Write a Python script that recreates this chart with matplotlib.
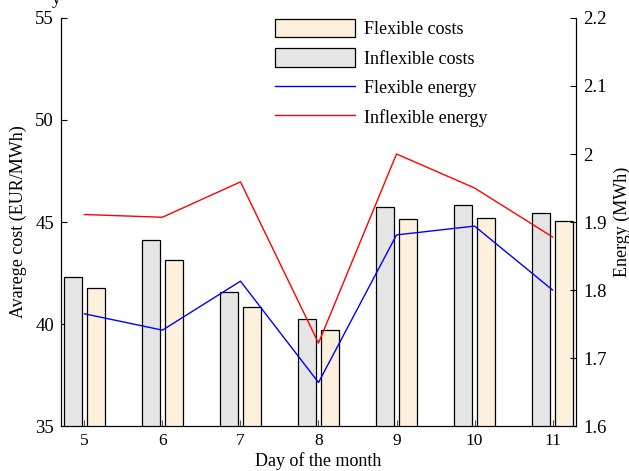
import numpy as np
import matplotlib
matplotlib.use("Agg")
from matplotlib import pyplot as plt

plt.rcParams['font.family'] = ['Liberation Serif', 'DejaVu Serif']
plt.rcParams['font.size'] = 13

# data
days = [5, 6, 7, 8, 9, 10, 11]
inflexible_costs = [42.3, 44.1, 41.55, 40.25, 45.72, 45.82, 45.43]
flexible_costs = [41.75, 43.14, 40.82, 39.69, 45.13, 45.18, 45.06]
flexible_energy = [1.765, 1.741, 1.813, 1.664, 1.881, 1.894, 1.800]
inflexible_energy = [1.911, 1.907, 1.959, 1.722, 2.000, 1.950, 1.878]

x = np.array(days, dtype=float)

fig = plt.figure(figsize=(6.29, 4.71), dpi=100)
ax = fig.add_axes([0.097, 0.0955, 0.8187, 0.8663])

w = 0.23
b_in = ax.bar(x - 0.145, inflexible_costs, width=w, color='#e5e5e5',
              edgecolor='black', linewidth=0.9, label='Inflexible costs', zorder=2)
b_fl = ax.bar(x + 0.145, flexible_costs, width=w, color='#fdf0dc',
              edgecolor='black', linewidth=0.9, label='Flexible costs', zorder=2)

ax.set_xlim(4.7, 11.3)
ax.set_ylim(35, 55)
ax.set_yticks([35, 40, 45, 50, 55])
ax.set_xticks(days)
ax.set_xlabel('Day of the month', labelpad=2)
ax.set_ylabel('Avarege cost (EUR/MWh)', labelpad=6)
ax.spines['top'].set_visible(False)
ax.tick_params(direction='in', length=4, width=0.8, pad=5)
ax.tick_params(axis='y', labelsize=13.5)
ax.tick_params(axis='x', colors='#555555', labelcolor='black', labelsize=12.5)

ax2 = ax.twinx()
l_fl, = ax2.plot(x, flexible_energy, color='#0000ff', linewidth=1.0, label='Flexible energy')
l_in, = ax2.plot(x, inflexible_energy, color='#ff0000', linewidth=1.0, label='Inflexible energy')
ax2.set_ylim(1.6, 2.2)
ax2.set_yticks([1.6, 1.7, 1.8, 1.9, 2.0, 2.1, 2.2])
ax2.set_yticklabels(['1.6', '1.7', '1.8', '1.9', '2', '2.1', '2.2'])
ax2.set_ylabel('Energy (MWh)', labelpad=5)
ax2.spines['top'].set_visible(False)
ax2.tick_params(direction='in', length=4, width=0.8, pad=5, labelsize=13.5)

ax2.legend([b_fl, b_in, l_fl, l_in],
           ['Flexible costs', 'Inflexible costs', 'Flexible energy', 'Inflexible energy'],
           loc='upper left', bbox_to_anchor=(0.384, 1.038), frameon=False,
           handlelength=4.45, handleheight=1.22, labelspacing=0.56, handletextpad=0.5,
           fontsize=13)

# clipped title glyph visible at the very top of the reference
fig.text(0.083, 1.0, 'y', ha='left', va='center', fontsize=13)

fig.savefig('out.png', dpi=100)
